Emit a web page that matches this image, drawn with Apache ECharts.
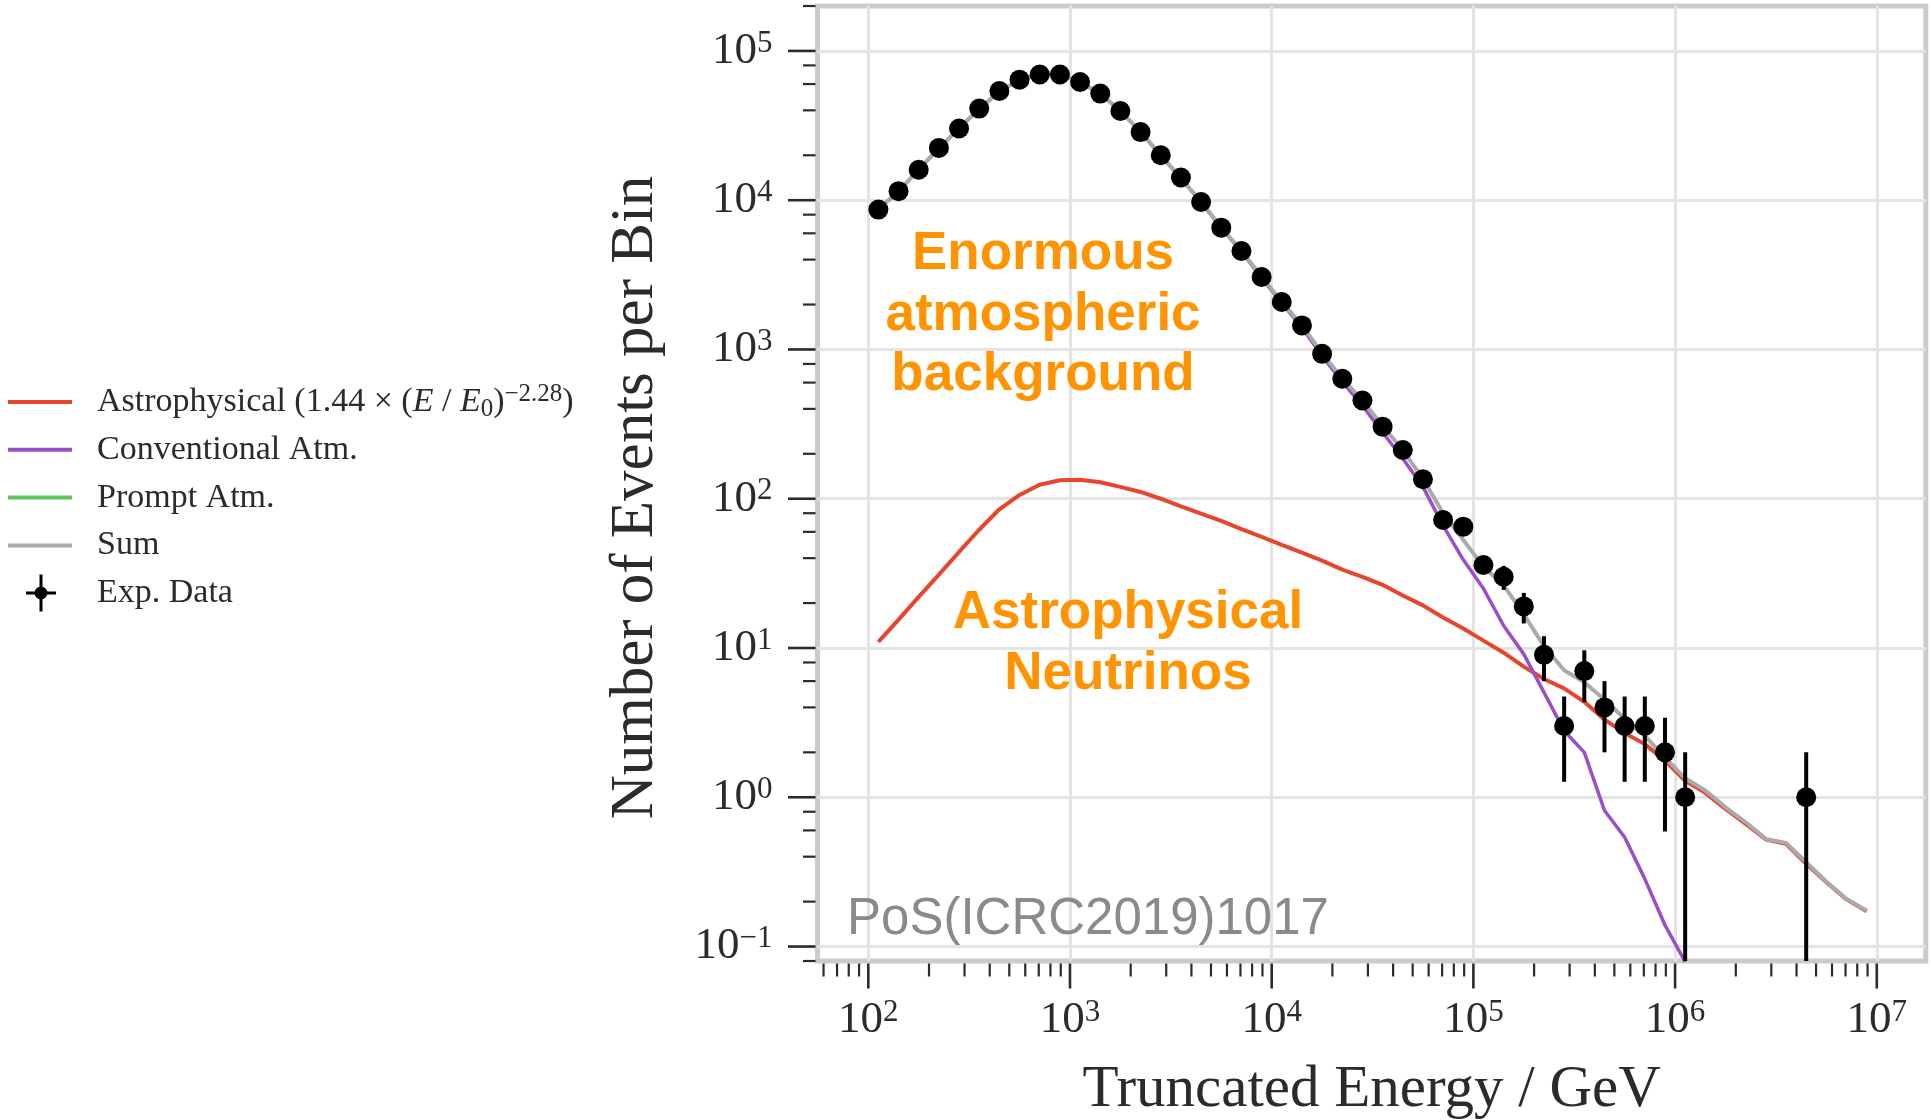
<!DOCTYPE html>
<html>
<head>
<meta charset="utf-8">
<script src="https://cdn.jsdelivr.net/npm/echarts@6/dist/echarts.min.js"></script>
<style>
  html, body { margin: 0; padding: 0; background: #ffffff; }
  #chart { width: 1931px; height: 1120px; }
</style>
</head>
<body>
<div id="chart"></div>
<script>
// Bin centres of truncated energy (GeV), 10 bins per decade
const energyBins = [
  112.2, 141.3, 177.8, 223.9, 281.8, 354.8, 446.7, 562.3, 707.9, 891.3,
  1122, 1413, 1778, 2239, 2818, 3548, 4467, 5623, 7079, 8913,
  11220, 14130, 17780, 22390, 28180, 35480, 44670, 56230, 70790, 89130,
  112200, 141300, 177800, 223900, 281800, 354800, 446700, 562300, 707900, 891300,
  1122000, 1413000, 1778000, 2239000, 2818000, 3548000, 4467000, 5623000, 7079000, 8913000
];

// Observed events per bin (null = empty bin)
const expCounts = [
  8650, 11500, 16000, 22400, 30200, 41100, 53900, 64200, 69500, 69500,
  61900, 51800, 39600, 28600, 20000, 14200, 9730, 6550, 4570, 3060,
  2080, 1450, 935, 637, 455, 304, 212, 135, 72, 65,
  36, 30, 19, 9, 3, 7, 4, 3, 3, 2,
  1, null, null, null, null, null, 1
];

// Visible error bar ends (null = bar hidden behind the marker; 0 = reaches the axis floor)
const expErrLow = [
  null, null, null, null, null, null, null, null, null, null,
  null, null, null, null, null, null, null, null, null, null,
  null, null, null, null, null, null, null, null, null, null,
  null, 24.5, 14.6, 6.0, 1.27, 4.35, 2.0, 1.27, 1.27, 0.59,
  0, null, null, null, null, null, 0
];
const expErrHigh = [
  null, null, null, null, null, null, null, null, null, null,
  null, null, null, null, null, null, null, null, null, null,
  null, null, null, null, null, null, null, null, null, null,
  null, 35.5, 23.4, 12.0, 4.73, 9.65, 6.0, 4.73, 4.73, 3.41,
  2.0, null, null, null, null, null, 2.0
];

// Model expectations per bin
const astrophysical = [
  11, 15.5, 22, 31, 44, 62, 85, 106, 124, 133,
  134, 129, 120, 111, 100, 89, 79.5, 71, 62.5, 55.5,
  49, 43.5, 38.5, 33.5, 30, 26.5, 22.5, 19.3, 16, 13.5,
  11.2, 9.3, 7.5, 6.2, 5.36, 4.36, 3.31, 2.7, 2.27, 1.76,
  1.29, 1.07, 0.836, 0.664, 0.521, 0.488, 0.358, 0.27, 0.207, 0.172
];
const conventionalAtm = [
  8690, 11480, 15980, 22270, 30260, 40940, 53400, 63900, 69500, 69200,
  61900, 51500, 39600, 28600, 19900, 14000, 9670, 6510, 4520, 3015,
  2040, 1405, 906, 606, 420, 278, 186, 120, 66, 39,
  25, 14.1, 9.1, 5.04, 2.79, 2.0, 0.815, 0.54, 0.284, 0.139,
  0.079
];
const promptAtm = [];
const sumModel = [
  8700, 11500, 16000, 22300, 30300, 41000, 53500, 64000, 69600, 69300,
  62000, 51600, 39700, 28700, 20000, 14100, 9750, 6580, 4580, 3070,
  2090, 1450, 945, 640, 455, 307, 212, 136, 80, 53,
  35, 26.3, 16.8, 10.3, 7.1, 5.9, 4.5, 3.37, 2.58, 1.85,
  1.34, 1.11, 0.857, 0.68, 0.526, 0.495, 0.367, 0.272, 0.208, 0.174
];

// Axis decades that carry a label
const xTickExponents = [2, 3, 4, 5, 6, 7];
const yTickExponents = [-1, 0, 1, 2, 3, 4, 5];

const X_MIN = 56, X_MAX = 1.75e7;
const Y_MIN = 0.08, Y_MAX = 2e5;

const SERIF = "'Liberation Serif', 'DejaVu Serif', serif";
const SANS = "'Liberation Sans', Arial, sans-serif";
const INK = '#2b2b2b';

const COLORS = {
  astro: '#e8452f',
  conv: '#9a4fc9',
  prompt: '#5cc65c',
  sum: '#aaaaaa',
  data: '#000000'
};

function pairs(values) {
  const out = [];
  values.forEach((v, i) => { if (v != null) out.push([energyBins[i], v]); });
  return out;
}

const expPoints = pairs(expCounts);
const errBars = [];
expErrHigh.forEach((hi, i) => {
  if (hi != null) errBars.push([energyBins[i], expErrLow[i], hi]);
});

// tick marks: majors at decades, minors at 2..9 (x) and 2,4,6,8 (y)
const xTicks = [];
for (let d = 1; d <= 7; d++) {
  for (let m = 1; m <= 9; m++) {
    const v = m * Math.pow(10, d);
    if (v >= X_MIN * 0.999 && v <= X_MAX * 1.001) xTicks.push([v, 1, m === 1 ? 1 : 0]);
  }
}
const yTicks = [];
for (let d = -2; d <= 5; d++) {
  [1, 2, 4, 6, 8].forEach(m => {
    const v = m * Math.pow(10, d);
    if (v >= Y_MIN * 0.999 && v <= Y_MAX * 1.001) yTicks.push([1000, v, m === 1 ? 1 : 0]);
  });
}

function decadeLabel(list) {
  return function (v) {
    const l = Math.log10(v);
    const e = Math.round(l);
    if (Math.abs(l - e) > 1e-6 || list.indexOf(e) < 0) return '';
    return '{b|10}{s|' + (e < 0 ? '\u2212' + (-e) : e) + '}';
  };
}

const tickRich = {
  b: { fontFamily: SERIF, fontSize: 45, lineHeight: 46, color: INK },
  s: { fontFamily: SERIF, fontSize: 31, lineHeight: 18, verticalAlign: 'top', color: INK }
};

const legendRich = {
  g: { width: 20 },
  gd: { width: 36 },
  t: { fontFamily: SERIF, fontSize: 34, lineHeight: 40, color: INK },
  i: { fontFamily: SERIF, fontSize: 34, lineHeight: 40, fontStyle: 'italic', color: INK },
  sup: { fontFamily: SERIF, fontSize: 25, lineHeight: 28, verticalAlign: 'top', color: INK },
  sub: { fontFamily: SERIF, fontSize: 25, lineHeight: 28, verticalAlign: 'bottom', color: INK }
};

function legendText(name) {
  if (name === 'Astrophysical') {
    return '{g| }{t|Astrophysical (1.44 \u00d7 (}{i|E}{t| / }{i|E}{sub|0}{t|)}{sup|\u22122.28}{t|)}';
  }
  if (name === 'Exp. Data') return '{gd| }{t|' + name + '}';
  return '{g| }{t|' + name + '}';
}

const chart = echarts.init(document.getElementById('chart'), null, { renderer: 'canvas' });

const option = {
  animation: false,
  backgroundColor: '#ffffff',
  grid: {
    left: 817.5, right: 5.2, top: 6, bottom: 159,
    outerBoundsMode: 'none', containLabel: false,
    show: true, borderColor: '#cbcbcb', borderWidth: 5, backgroundColor: 'transparent'
  },
  legend: [
    {
      data: ['Astrophysical', 'Conventional Atm.', 'Prompt Atm.', 'Sum'],
      orient: 'vertical', left: 8, top: 382,
      itemWidth: 64, itemHeight: 4, itemGap: 7.8, icon: 'rect',
      selectedMode: false, padding: 0,
      formatter: legendText,
      textStyle: { fontFamily: SERIF, fontSize: 34, lineHeight: 40, color: INK, rich: legendRich }
    },
    {
      data: [{ name: 'Exp. Data', icon: 'path://M13.5,0H16.5V37H13.5Z M0,17H30V20H0Z M8.5,18.5A6.5,6.5 0 1,1 21.5,18.5A6.5,6.5 0 1,1 8.5,18.5Z' }],
      orient: 'vertical', left: 26, top: 573,
      itemWidth: 30, itemHeight: 37,
      selectedMode: false, padding: 0,
      formatter: legendText,
      textStyle: { fontFamily: SERIF, fontSize: 34, lineHeight: 40, color: INK, rich: legendRich }
    }
  ],
  xAxis: {
    type: 'log', logBase: 10, min: X_MIN, max: X_MAX,
    name: 'Truncated Energy / GeV', nameLocation: 'middle', nameGap: 100,
    nameTextStyle: { fontFamily: SERIF, fontSize: 59, color: INK },
    axisLine: { show: false },
    axisTick: { show: false },
    axisLabel: {
      formatter: decadeLabel(xTickExponents), margin: 36,
      showMinLabel: false, showMaxLabel: false, rich: tickRich
    },
    splitLine: { show: true, showMinLine: false, showMaxLine: false, lineStyle: { color: '#e4e4e4', width: 3 } }
  },
  yAxis: {
    type: 'log', logBase: 10, min: Y_MIN, max: Y_MAX,
    name: 'Number of Events per Bin', nameLocation: 'middle', nameGap: 151, nameRotate: 90,
    nameTextStyle: { fontFamily: SERIF, fontSize: 61, color: INK, padding: [0, 28, 0, 0] },
    axisLine: { show: false },
    axisTick: { show: false },
    axisLabel: {
      formatter: decadeLabel(yTickExponents), margin: 45,
      showMinLabel: false, showMaxLabel: false, rich: tickRich
    },
    splitLine: { show: true, showMinLine: false, showMaxLine: false, lineStyle: { color: '#e4e4e4', width: 3 } }
  },
  series: [
    {
      name: 'Astrophysical', type: 'line', data: pairs(astrophysical), z: 2,
      showSymbol: false, symbol: 'none',
      itemStyle: { color: COLORS.astro }, lineStyle: { color: COLORS.astro, width: 4 }
    },
    {
      name: 'Conventional Atm.', type: 'line', data: pairs(conventionalAtm), z: 3,
      showSymbol: false, symbol: 'none',
      itemStyle: { color: COLORS.conv }, lineStyle: { color: COLORS.conv, width: 3.5 }
    },
    {
      name: 'Prompt Atm.', type: 'line', data: pairs(promptAtm), z: 3,
      showSymbol: false, symbol: 'none',
      itemStyle: { color: COLORS.prompt }, lineStyle: { color: COLORS.prompt, width: 3.5 }
    },
    {
      name: 'Sum', type: 'line', data: pairs(sumModel), z: 4,
      showSymbol: false, symbol: 'none',
      itemStyle: { color: COLORS.sum }, lineStyle: { color: COLORS.sum, width: 4 }
    },
    {
      // error bars of the measured counts
      type: 'custom', z: 5, clip: false, silent: true,
      data: errBars, encode: { x: 0, y: 2 },
      renderItem: function (params, api) {
        const cs = params.coordSys;
        const e = api.value(0), lo = api.value(1), hi = api.value(2);
        const top = api.coord([e, hi]);
        const floor = cs.y + cs.height;
        const yLo = lo > 0 ? Math.min(api.coord([e, lo])[1], floor) : floor;
        return {
          type: 'line',
          shape: { x1: top[0], y1: top[1], x2: top[0], y2: yLo },
          style: { stroke: COLORS.data, lineWidth: 4 }
        };
      }
    },
    {
      name: 'Exp. Data', type: 'scatter', data: expPoints, z: 6,
      symbol: 'circle', symbolSize: 20,
      itemStyle: { color: COLORS.data, opacity: 1 }
    },
    {
      // x-axis tick marks below the frame
      type: 'custom', z: 7, clip: false, silent: true,
      data: xTicks, encode: { x: 0, y: 1 },
      renderItem: function (params, api) {
        const cs = params.coordSys;
        const px = api.coord([api.value(0), 1])[0];
        const major = api.value(2) === 1;
        const y0 = cs.y + cs.height + 2.5;
        return {
          type: 'line',
          shape: { x1: px, y1: y0, x2: px, y2: y0 + (major ? 25 : 13) },
          style: { stroke: INK, lineWidth: major ? 2.6 : 2.2 }
        };
      }
    },
    {
      // y-axis tick marks left of the frame
      type: 'custom', z: 7, clip: false, silent: true,
      data: yTicks, encode: { x: 0, y: 1 },
      renderItem: function (params, api) {
        const cs = params.coordSys;
        const py = api.coord([1000, api.value(1)])[1];
        const major = api.value(2) === 1;
        const x1 = cs.x - 2;
        return {
          type: 'line',
          shape: { x1: x1 - (major ? 27.5 : 12.5), y1: py, x2: x1, y2: py },
          style: { stroke: INK, lineWidth: major ? 2.6 : 2.2 }
        };
      }
    }
  ],
  graphic: [
    {
      type: 'text', x: 1043, y: 315, z: 50,
      style: {
        text: 'Enormous\natmospheric\nbackground',
        fontFamily: SANS, fontWeight: 'bold', fontSize: 53, lineHeight: 60.5,
        fill: '#ff9300', align: 'center', verticalAlign: 'middle'
      }
    },
    {
      type: 'text', x: 1128, y: 644, z: 50,
      style: {
        text: 'Astrophysical\nNeutrinos',
        fontFamily: SANS, fontWeight: 'bold', fontSize: 53, lineHeight: 61,
        fill: '#ff9300', align: 'center', verticalAlign: 'middle'
      }
    },
    {
      type: 'text', x: 847, y: 920, z: 50,
      style: {
        text: 'PoS(ICRC2019)1017',
        fontFamily: SANS, fontSize: 51,
        fill: '#8a8a8a', align: 'left', verticalAlign: 'middle'
      }
    }
  ]
};

chart.setOption(option);
</script>
</body>
</html>
